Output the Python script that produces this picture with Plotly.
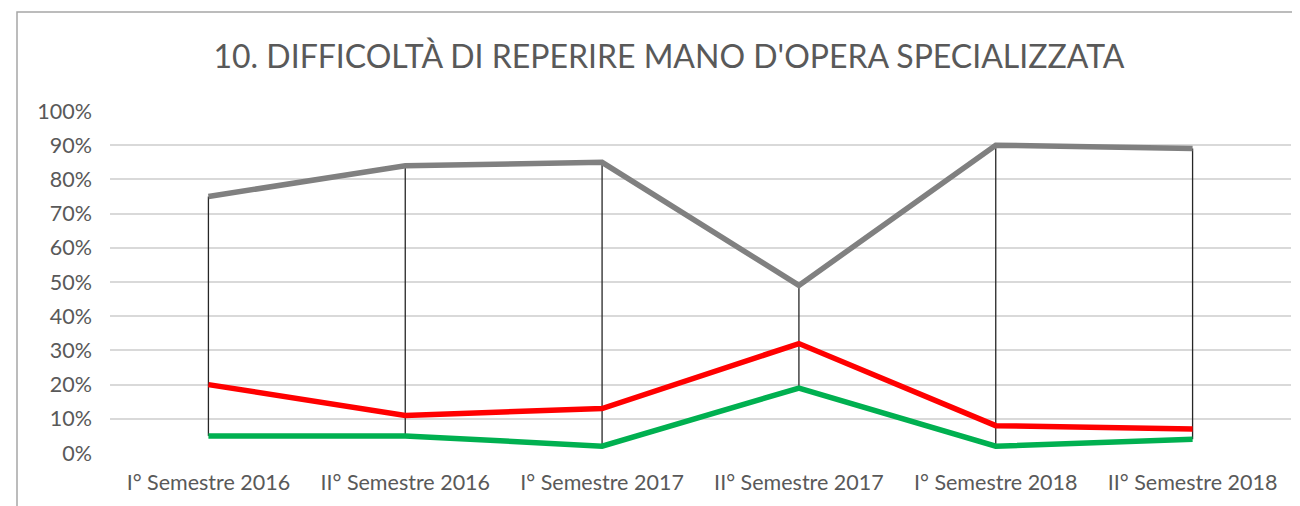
import plotly.graph_objects as go

categories = ["I° Semestre 2016", "II° Semestre 2016", "I° Semestre 2017",
              "II° Semestre 2017", "I° Semestre 2018", "II° Semestre 2018"]
grigio = [75, 84, 85, 49, 90, 89]
rosso = [20, 11, 13, 32, 8, 7]
verde = [5, 5, 2, 19, 2, 4]
y_ticks = [0, 10, 20, 30, 40, 50, 60, 70, 80, 90, 100]
title_text = "10. DIFFICOLTÀ DI REPERIRE MANO D'OPERA SPECIALIZZATA"

FONT = "Lato"
OFF = 8  # body margin of the page
W, H = 1300 - OFF, 506 - OFF
ML, MR, MT, MB = 110 - OFF, 9, 111 - OFF, 53

fig = go.Figure()

# high-low lines
hx, hy = [], []
for i, c in enumerate(categories):
    vals = [grigio[i], rosso[i], verde[i]]
    hx += [c, c, None]
    hy += [max(vals), min(vals), None]
fig.add_trace(go.Scatter(x=hx, y=hy, mode="lines",
                         line=dict(color="#262626", width=1.3),
                         hoverinfo="skip", showlegend=False))

for vals, col in [(grigio, "#808080"), (rosso, "#FF0000"), (verde, "#00B050")]:
    fig.add_trace(go.Scatter(x=categories, y=vals, mode="lines",
                             line=dict(color=col, width=5.5),
                             showlegend=False))

pw = W - ML - MR
ph = H - MT - MB
fig.add_shape(type="rect", xref="paper", yref="paper",
              x0=(17 - OFF - ML) / pw, x1=(W + 20 - ML) / pw,
              y0=-(H + 20 - MT - ph) / ph, y1=(H - (12 - OFF) - MB) / ph,
              line=dict(color="#A6A6A6", width=1.5), layer="below")

fig.update_layout(
    width=W, height=H,
    margin=dict(l=ML, r=MR, t=MT, b=MB),
    paper_bgcolor="white", plot_bgcolor="white",
    title=dict(text=title_text, x=(669 - OFF) / W, xref="container", xanchor="center",
               y=1 - (57 - OFF) / H, yanchor="middle", yref="container",
               font=dict(family=FONT, size=32, color="#595959")),
    xaxis=dict(type="category", showgrid=False, zeroline=False, showline=False,
               ticks="", tickfont=dict(family=FONT, size=21.5, color="#595959"),
               ticklabelstandoff=14, range=[-0.5, 5.5]),
    yaxis=dict(range=[0, 100], tickvals=y_ticks,
               ticktext=[f"{v}%" for v in y_ticks],
               showgrid=True, gridcolor="#D9D9D9", gridwidth=1.5,
               zeroline=False, showline=False, ticks="",
               ticklabelstandoff=17,
               tickfont=dict(family=FONT, size=21.5, color="#595959")),
)

fig.write_html("out.html")
